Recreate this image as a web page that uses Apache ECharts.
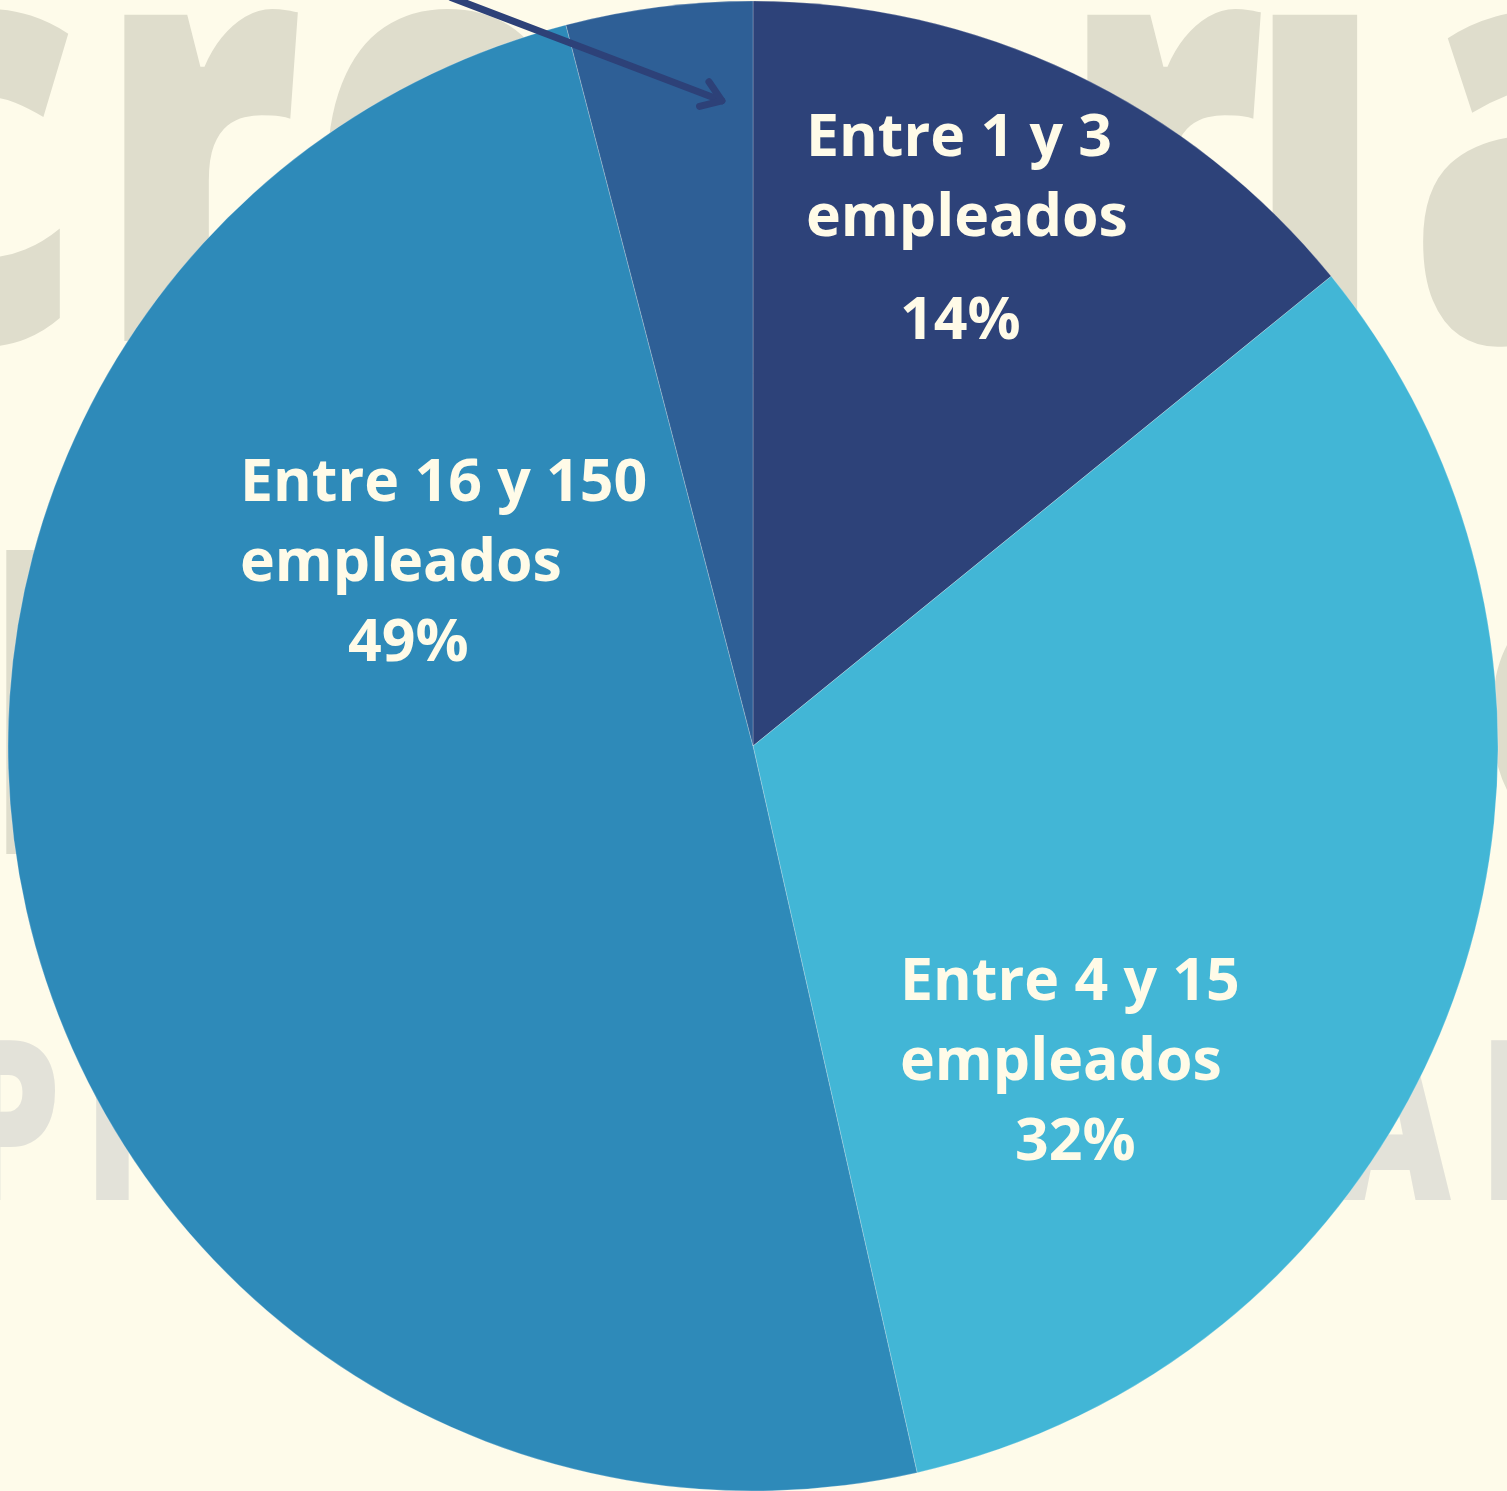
<!DOCTYPE html>
<html>
<head>
<meta charset="utf-8">
<script src="https://cdn.jsdelivr.net/npm/echarts@6/dist/echarts.min.js"></script>
<style>
html, body { margin: 0; padding: 0; background: #fefbea; }
#chart { width: 1507px; height: 1491px; }
</style>
</head>
<body>
<div id="chart"></div>
<script>
// tamaño de empresa (empleados) y porcentaje
const rangeNames = ['Entre 1 y 3', 'Entre 4 y 15', 'Entre 16 y 150', 'Más de 150']
const unitLabel = 'empleados'
const shares = [14, 32, 49, 4]
const sliceColors = ['#2d4279', '#42b6d6', '#2e8ab9', '#2e5f96']

// text blocks: left, top, indent of the percent line
const labelSpots = [[806, 99, 94], [900, 943, 115], [240, 444, 108]]

const textColor = '#fffbe8'
const labelFont = '"Open Sans", "DejaVu Sans", sans-serif'
const labelSize = 59

// big faded letters behind the pie
const watermark = [
    ['c', -40, 173, 590, '#dfddcc'],
    ['r', 199, 173, 590, '#dfddcc'],
    ['e', 445, 173, 590, '#dfddcc'],
    ['r', 1162, 173, 590, '#dfddcc'],
    ['í', 1315, 173, 590, '#dfddcc'],
    ['a', 1545, 173, 590, '#dfddcc'],
    ['l', 35, 740, 400, '#dfddcc'],
    ['o', 1575, 715, 400, '#dfddcc'],
    ['P', 8, 1136, 224, '#e3e2d9'],
    ['R', 140, 1136, 224, '#e3e2d9'],
    ['A', 1390, 1136, 224, '#e3e2d9'],
    ['R', 1535, 1136, 224, '#e3e2d9'],
]

const pctRich = {}
labelSpots.forEach(([, , indent], i) => {
    pctRich['pct' + i] = {
        color: textColor,
        fontFamily: labelFont,
        fontWeight: 700,
        fontSize: labelSize,
        lineHeight: i === 0 ? 126 : 80,
        padding: [0, 0, 0, indent],
    }
})

const chart = echarts.init(document.getElementById('chart'))

chart.setOption({
    backgroundColor: '#fefbea',
    animation: false,
    graphic: watermark.map(([ch, x, y, size, color]) => ({
        type: 'text',
        x,
        y,
        z: 0,
        scaleX: 0.75,
        silent: true,
        style: {
            text: ch,
            x: 0,
            y: 0,
            fill: color,
            font: `800 ${size}px "Open Sans", sans-serif`,
            align: 'center',
            verticalAlign: 'middle',
        },
    })),
    series: [
        {
            type: 'pie',
            center: [753, 746],
            radius: 745,
            startAngle: 90,
            clockwise: true,
            avoidLabelOverlap: false,
            silent: true,
            z: 2,
            itemStyle: {
                borderColor: 'rgba(255,255,255,0.22)',
                borderWidth: 1,
            },
            label: {
                show: true,
                position: 'inside',
                color: textColor,
                fontFamily: labelFont,
                fontWeight: 700,
                fontSize: labelSize,
                lineHeight: 80,
                formatter: ({name, value, dataIndex}) =>
                    `${name}\n${unitLabel}\n{pct${dataIndex}|${value}%}`,
                rich: pctRich,
            },
            labelLine: {show: false},
            labelLayout: ({dataIndex}) => {
                const spot = labelSpots[dataIndex]
                if (!spot) return {}
                return {x: spot[0], y: spot[1], align: 'left', verticalAlign: 'top'}
            },
            data: rangeNames.map((name, i) => ({
                name,
                value: shares[i],
                itemStyle: {color: sliceColors[i]},
                label: {show: i < labelSpots.length},
            })),
        },
    ],
})

// arrow pointing into the thin slice, placed from the slice's own layout
const lay = chart.getModel().getSeriesByIndex(0).getData().getItemLayout(3)
const theta = lay.endAngle - 0.19 * (lay.endAngle - lay.startAngle)
const tip = [lay.cx + 0.867 * lay.r * Math.cos(theta), lay.cy + 0.867 * lay.r * Math.sin(theta)]
const shaftAng = 20.9 * Math.PI / 180
const start = [tip[0] - 290 * Math.cos(shaftAng), tip[1] - 290 * Math.sin(shaftAng)]
const back = shaftAng + Math.PI
const arm = (d) => [tip[0] + 23 * Math.cos(back + d), tip[1] + 23 * Math.sin(back + d)]
const spread = 35 * Math.PI / 180

chart.setOption({
    graphic: [
        {
            type: 'polyline',
            id: 'arrowShaft',
            z: 100,
            silent: true,
            shape: {points: [start, tip]},
            style: {stroke: '#2d4178', lineWidth: 7, lineCap: 'round', fill: null},
        },
        {
            type: 'polyline',
            id: 'arrowHead',
            z: 100,
            silent: true,
            shape: {points: [arm(spread), tip, arm(-spread)]},
            style: {stroke: '#2d4178', lineWidth: 7, lineCap: 'round', lineJoin: 'round', fill: null},
        },
    ],
})
</script>
</body>
</html>
